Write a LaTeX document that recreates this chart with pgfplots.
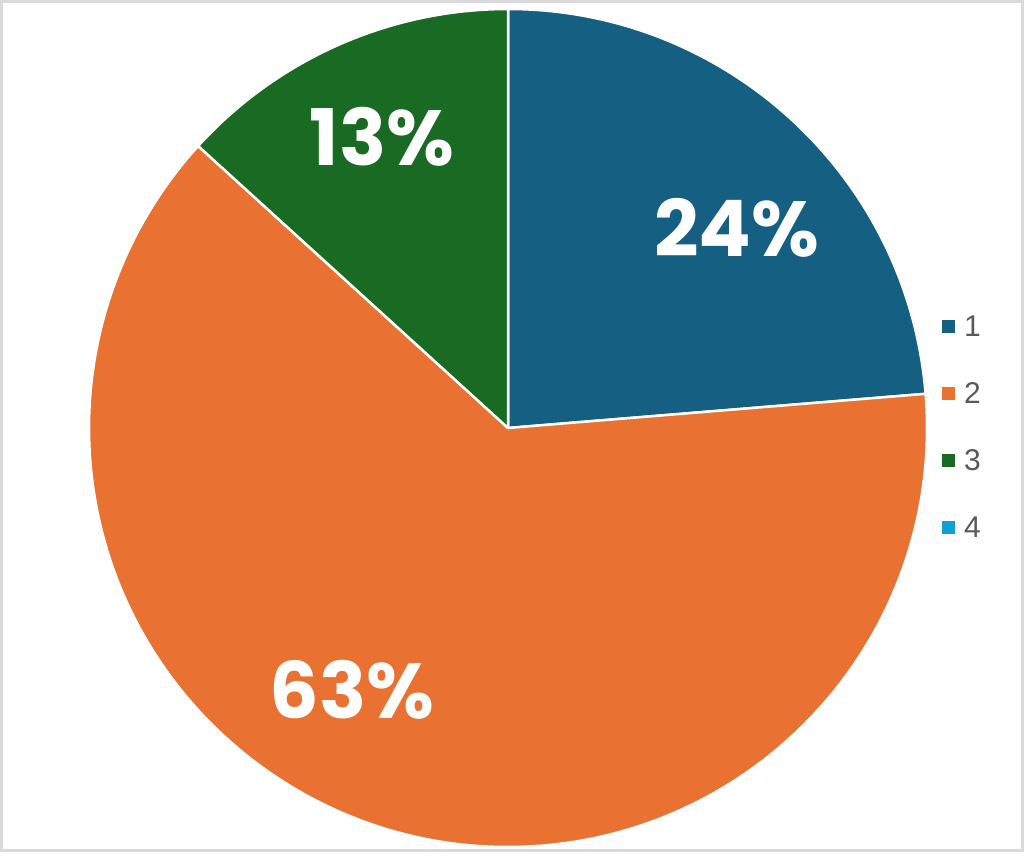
\documentclass[border=0pt]{standalone}
\usepackage{pgfplots}
\usepackage{pgfplotstable}
\pgfplotsset{compat=1.18}
\usepackage{fontspec}
\setmainfont{Liberation Sans}
\newfontfamily\pop{Poppins}
\definecolor{cA}{HTML}{156082}
\definecolor{cB}{HTML}{E97132}
\definecolor{cC}{HTML}{196B24}
\definecolor{cD}{HTML}{0F9ED5}
\definecolor{legtext}{HTML}{595959}
\definecolor{frame}{HTML}{D9D9D9}

\pgfplotstableread{
slice value
1 23.7
2 63.05
3 13.25
4 0
}\pietable

\pgfplotstablegetelem{0}{value}\of\pietable \let\vA\pgfplotsretval
\pgfplotstablegetelem{1}{value}\of\pietable \let\vB\pgfplotsretval
\pgfplotstablegetelem{2}{value}\of\pietable \let\vC\pgfplotsretval
\pgfplotstablegetelem{3}{value}\of\pietable \let\vD\pgfplotsretval
\pgfmathsetmacro{\aZero}{90}
\pgfmathsetmacro{\aOne}{\aZero-3.6*\vA}
\pgfmathsetmacro{\aTwo}{\aOne-3.6*\vB}
\pgfmathsetmacro{\aThree}{\aTwo-3.6*\vC}

\begin{document}
\begin{tikzpicture}
\begin{axis}[
  x=0.5pt, y=0.5pt,
  xmin=0, xmax=1024, ymin=0, ymax=852,
  hide axis, clip=false,
  legend image code/.code={\fill[#1] (0pt,-3pt) rectangle (6pt,3pt);},
  legend style={at={(axis cs:936,540)}, anchor=north west, draw=none, fill=none,
    font=\fontsize{15}{16}\selectfont\color{legtext},
    row sep=23.5pt,
    nodes={text height=10pt, text depth=0pt, inner ysep=0pt, inner xsep=4.5pt}},
]
\draw[frame, line width=1.5pt] (axis cs:1.5,1.5) rectangle (axis cs:1022.5,850.5);
\fill[cA, draw=white, line width=1.25pt, line join=round] (axis cs:508,424) -- ++(\aZero:209.5pt) arc[start angle=\aZero, end angle=\aOne, radius=209.5pt] -- cycle;
\fill[cB, draw=white, line width=1.25pt, line join=round] (axis cs:508,424) -- ++(\aOne:209.5pt) arc[start angle=\aOne, end angle=\aTwo, radius=209.5pt] -- cycle;
\fill[cC, draw=white, line width=1.25pt, line join=round] (axis cs:508,424) -- ++(\aTwo:209.5pt) arc[start angle=\aTwo, end angle=\aThree, radius=209.5pt] -- cycle;
\addlegendimage{cA}\addlegendentry{1}
\addlegendimage{cB}\addlegendentry{2}
\addlegendimage{cC}\addlegendentry{3}
\addlegendimage{cD}\addlegendentry{4}
\node[text=white, font=\pop\bfseries\fontsize{39}{40}\selectfont] at (axis cs:737,624) {24\%};
\node[text=white, font=\pop\bfseries\fontsize{39}{40}\selectfont] at (axis cs:382,715) {13\%};
\node[text=white, font=\pop\bfseries\fontsize{39}{40}\selectfont] at (axis cs:352,162) {63\%};
\end{axis}
\end{tikzpicture}
\end{document}
